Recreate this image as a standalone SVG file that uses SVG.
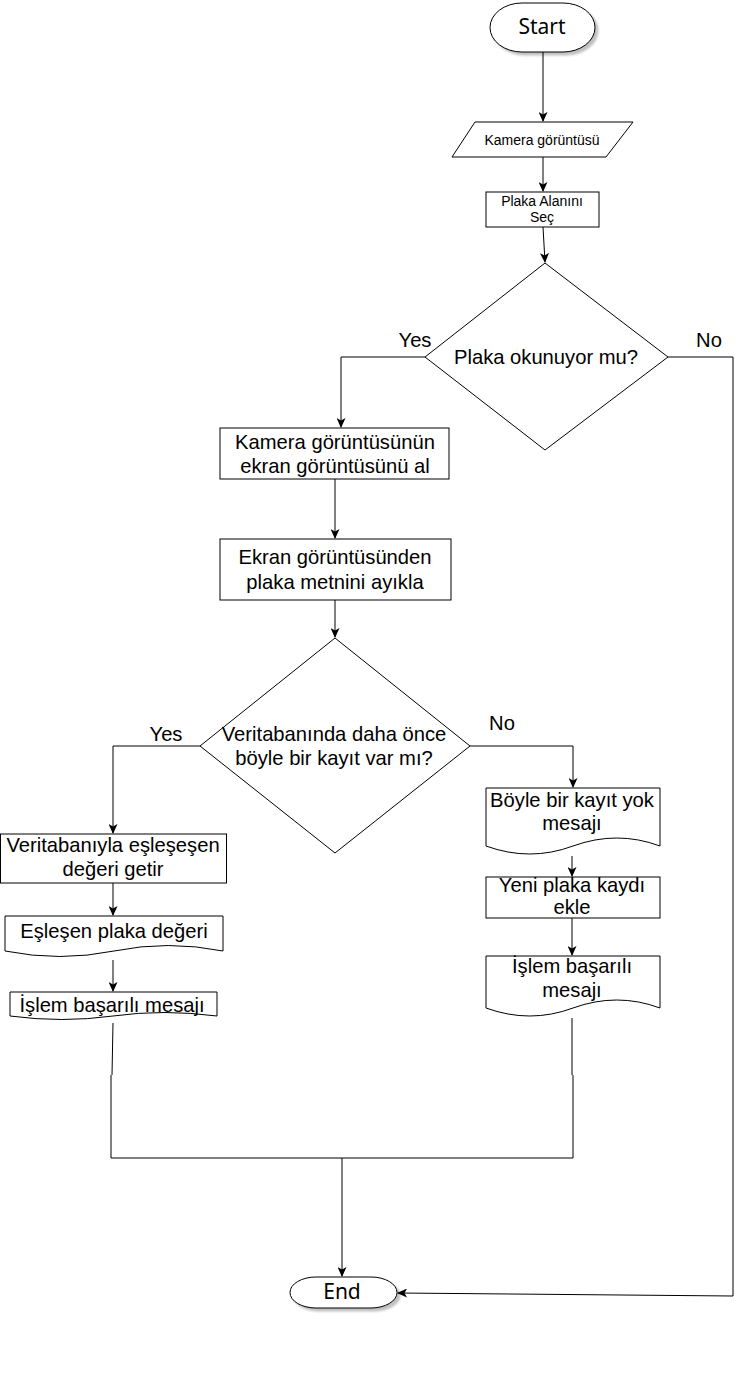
<svg xmlns="http://www.w3.org/2000/svg" width="744" height="1390" viewBox="0 0 744 1390">
<style>
.s{fill:#fff;stroke:#000;stroke-width:1}
.t{font-family:"Liberation Sans",Arial,sans-serif;font-size:20.2px;fill:#000;text-anchor:middle}
.sm{font-size:14px}
.term{font-family:"Noto Sans","Open Sans",sans-serif;font-size:21px;fill:#000;text-anchor:middle}
.c{fill:none;stroke:#000;stroke-width:1}
.a{marker-end:url(#arr)}
</style>
<defs>
<marker id="arr" viewBox="0 0 10 9" refX="9" refY="4.5" markerWidth="10" markerHeight="9" markerUnits="userSpaceOnUse" orient="auto">
<path d="M0,0 L10,4.5 L0,9 L2.5,4.5 Z" fill="#000"/>
</marker>
<filter id="sh" x="-20%" y="-20%" width="140%" height="160%">
<feDropShadow dx="3" dy="3" stdDeviation="1" flood-color="#000" flood-opacity="0.25"/>
</filter>
</defs>
<rect width="744" height="1390" fill="#fff"/>
<g id="connectors">
<path class="c a" d="M543,52 V121"/>
<path class="c a" d="M543,157 V191"/>
<path class="c a" d="M543,227 L545,262"/>
<path class="c a" d="M425,357 H341 V427"/>
<path class="c a" d="M668,357 H733 V1296 L398,1293"/>
<path class="c a" d="M335,479 V538"/>
<path class="c a" d="M335,600 V637"/>
<path class="c a" d="M200,746 H113 V833"/>
<path class="c a" d="M470,746 H573 V787"/>
<path class="c a" d="M113,883 V915"/>
<path class="c a" d="M113,960 V991"/>
<path class="c a" d="M572,856 V876"/>
<path class="c a" d="M572,918 V955"/>
<path class="c" d="M113,1023 L112,1075 M111,1075 V1158 H573 V1075 M572,1075 V1018"/>
<path class="c a" d="M342,1158 V1276"/>
</g>
<g id="start">
<rect class="s" x="490" y="3" width="105" height="49" rx="32" ry="24.5" filter="url(#sh)"/>
<text class="term" x="542" y="34">Start</text>
</g>
<g id="kamera">
<polygon class="s" points="475,122 633,122 606,157 452,157"/>
<text class="t sm" x="542" y="145">Kamera görüntüsü</text>
</g>
<g id="plakaalan">
<rect class="s" x="486" y="192" width="113" height="35"/>
<text class="t sm" x="542" y="206">Plaka Alanını</text>
<text class="t sm" x="542" y="222">Seç</text>
</g>
<g id="dec1">
<polygon class="s" points="545,263 668,357 545,450 425,357"/>
<text class="t" x="546" y="364">Plaka okunuyor mu?</text>
</g>
<g id="labels1">
<text class="t" x="415" y="347">Yes</text>
<text class="t" x="709" y="347">No</text>
</g>
<g id="ekranal">
<rect class="s" x="220" y="428" width="229" height="51"/>
<text class="t" x="335" y="449">Kamera görüntüsünün</text>
<text class="t" x="335" y="473">ekran görüntüsünü al</text>
</g>
<g id="ayikla">
<rect class="s" x="220" y="539" width="231" height="61"/>
<text class="t" x="335" y="564">Ekran görüntüsünden</text>
<text class="t" x="335" y="589">plaka metnini ayıkla</text>
</g>
<g id="dec2">
<polygon class="s" points="335,638 470,746 335,853 200,746"/>
<text class="t" x="334" y="741">Veritabanında daha önce</text>
<text class="t" x="334" y="765">böyle bir kayıt var mı?</text>
</g>
<g id="labels2">
<text class="t" x="166" y="741">Yes</text>
<text class="t" x="502" y="730">No</text>
</g>
<g id="getir">
<rect class="s" x="0.5" y="834" width="226" height="49"/>
<text class="t" x="113" y="852">Veritabanıyla eşleşeşen</text>
<text class="t" x="113" y="876">değeri getir</text>
</g>
<g id="eslesen">
<path class="s" d="M5,916 H223 V951 Q168,940 114,951 Q60,962 5,951 Z"/>
<text class="t" x="114" y="938">Eşleşen plaka değeri</text>
</g>
<g id="basarili1">
<path class="s" d="M10,992 H217 V1016 Q163,1009 113,1016 Q62,1023 10,1016 Z"/>
<text class="t" x="112" y="1012">İşlem başarılı mesajı</text>
</g>
<g id="yok">
<path class="s" d="M486,788 H660 V846 Q617,830 573,846 Q530,862 486,846 Z"/>
<text class="t" x="572" y="807">Böyle bir kayıt yok</text>
<text class="t" x="572" y="830">mesajı</text>
</g>
<g id="ekle">
<rect class="s" x="486" y="877" width="174" height="41"/>
<text class="t" x="572" y="892">Yeni plaka kaydı</text>
<text class="t" x="572" y="914">ekle</text>
</g>
<g id="basarili2">
<path class="s" d="M486,956 H660 V1008 Q617,992 573,1008 Q530,1024 486,1008 Z"/>
<text class="t" x="572" y="973">İşlem başarılı</text>
<text class="t" x="572" y="997">mesajı</text>
</g>
<g id="end">
<rect class="s" x="290" y="1277" width="107" height="31" rx="26" ry="15.5" filter="url(#sh)"/>
<text class="term" x="342" y="1299">End</text>
</g>
</svg>
